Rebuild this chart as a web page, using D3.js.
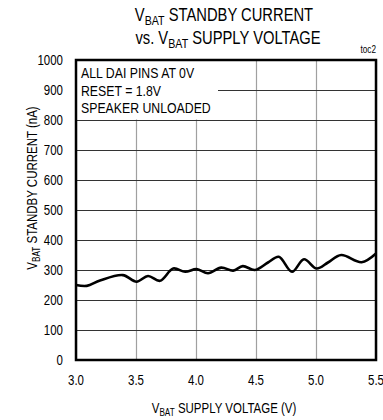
<!DOCTYPE html>
<html>
<head>
<meta charset="utf-8">
<script src="https://cdn.jsdelivr.net/npm/d3@7"></script>
<style>
  html, body { margin: 0; padding: 0; background: #fff; }
  svg { display: block; }
  text { font-family: "Liberation Sans", Arial, sans-serif; fill: #000; }
</style>
</head>
<body>
<svg id="chart" width="383" height="420"></svg>
<script>
// Supply voltage (V) and measured standby current (nA)
const voltage = [3.00, 3.09, 3.20, 3.39, 3.505, 3.60, 3.70, 3.81, 3.91, 4.005, 4.10, 4.21, 4.31, 4.39, 4.49, 4.60, 4.69, 4.80, 4.90, 5.005, 5.10, 5.21, 5.38, 5.50];
const current = [250, 247, 265, 283, 261, 280, 264, 305, 294, 303, 289, 308, 298, 313, 300, 325, 344, 294, 336, 305, 325, 350, 326, 355];

const xTicks = [3.0, 3.5, 4.0, 4.5, 5.0, 5.5];
const yTicks = [0, 100, 200, 300, 400, 500, 600, 700, 800, 900, 1000];
const noteLines = ["ALL DAI PINS AT 0V", "RESET = 1.8V", "SPEAKER UNLOADED"];

const NARROW = 0.82; // condensed lettering

const svg = d3.select("#chart");
const margin = { left: 76, right: 7, top: 60, bottom: 60 };
const W = 383, H = 420;
const x = d3.scaleLinear().domain([3.0, 5.5]).range([margin.left, W - margin.right]);
const y = d3.scaleLinear().domain([0, 1000]).range([H - margin.bottom, margin.top]);

// Places a condensed text at (px, py), optionally rotated
function label(parent, px, py, size, anchor, rot) {
  return parent.append("text")
    .attr("transform", `translate(${px},${py})${rot ? ` rotate(${rot})` : ""} scale(${NARROW},1)`)
    .attr("text-anchor", anchor)
    .attr("font-size", size);
}

// Vertical grid (grey)
svg.append("g")
  .attr("transform", `translate(0,${y(0)})`)
  .call(d3.axisBottom(x).tickValues(xTicks).tickSize(-(y(0) - y(1000))).tickFormat(""))
  .call(g => g.select(".domain").remove())
  .call(g => g.selectAll("line").attr("stroke", "#a0a0a0").attr("stroke-width", 1.2));

// Horizontal grid (dark)
svg.append("g")
  .attr("transform", `translate(${x(3.0)},0)`)
  .call(d3.axisLeft(y).tickValues(yTicks).tickSize(-(x(5.5) - x(3.0))).tickFormat(""))
  .call(g => g.select(".domain").remove())
  .call(g => g.selectAll("line").attr("stroke", "#333").attr("stroke-width", 1));

// Note box covering the grid behind the conditions text
svg.append("rect")
  .attr("x", x(3.0) + 1).attr("y", y(1000) + 1)
  .attr("width", 141).attr("height", y(800) - y(1000) - 1.5)
  .attr("fill", "#fff");

noteLines.forEach((t, i) => {
  label(svg, x(3.0) + 5, y(1000) + 18 + i * 17.5, 15, "start").text(t);
});

// Data curve
const line = d3.line()
  .x((d, i) => x(voltage[i]))
  .y(d => y(d))
  .curve(d3.curveCatmullRom.alpha(0.5));
svg.append("path")
  .datum(current)
  .attr("d", line)
  .attr("fill", "none")
  .attr("stroke", "#000")
  .attr("stroke-width", 2.6)
  .attr("stroke-linejoin", "round");

// Plot frame
svg.append("rect")
  .attr("x", x(3.0)).attr("y", y(1000))
  .attr("width", x(5.5) - x(3.0)).attr("height", y(0) - y(1000))
  .attr("fill", "none").attr("stroke", "#000").attr("stroke-width", 2.5);

// Tick labels
yTicks.forEach(d => label(svg, x(3.0) - 13, y(d) + 5, 14, "end").text(d));
xTicks.forEach(d => label(svg, x(d), y(0) + 25, 14, "middle").text(d.toFixed(1)));

// Title
const t1 = label(svg, 224, 21, 18, "middle");
t1.append("tspan").text("V");
t1.append("tspan").attr("font-size", 13).attr("dy", 4).text("BAT");
t1.append("tspan").attr("dy", -4).text(" STANDBY CURRENT");
const t2 = label(svg, 228, 44, 18, "middle");
t2.append("tspan").text("vs. V");
t2.append("tspan").attr("font-size", 13).attr("dy", 4).text("BAT");
t2.append("tspan").attr("dy", -4).text(" SUPPLY VOLTAGE");

label(svg, x(5.5), 53, 10, "end").text("toc2");

// Axis titles
const xt = label(svg, 224, 413, 14, "middle");
xt.append("tspan").text("V");
xt.append("tspan").attr("font-size", 10).attr("dy", 3).text("BAT");
xt.append("tspan").attr("dy", -3).text(" SUPPLY VOLTAGE (V)");

const yt = label(svg, 37, 188, 14, "middle", -90);
yt.append("tspan").text("V");
yt.append("tspan").attr("font-size", 10).attr("dy", 3).text("BAT");
yt.append("tspan").attr("dy", -3).text(" STANDBY CURRENT (nA)");
</script>
</body>
</html>
